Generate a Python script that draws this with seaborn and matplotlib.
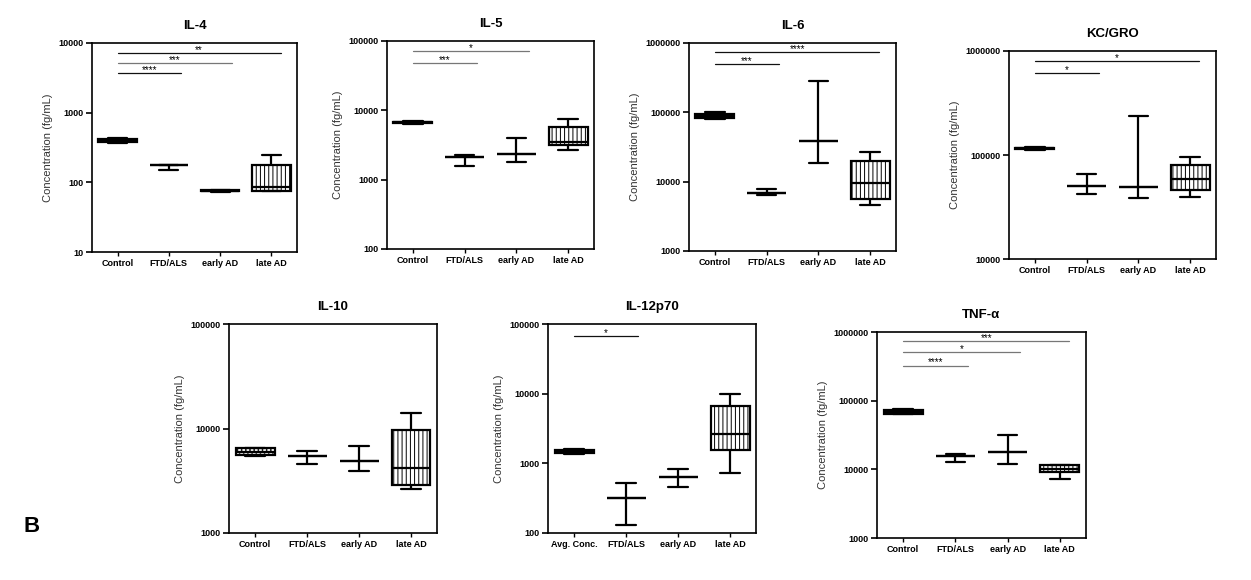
import numpy as np
import pandas as pd
import matplotlib
matplotlib.use("Agg")
import matplotlib.pyplot as plt
from matplotlib.ticker import NullLocator
import seaborn as sns

# =========================
# DATA
# five-number summaries: min, q1, median, q3, max  (fg/mL)
# =========================
groups = ["Control", "FTD/ALS", "early AD", "late AD"]
groups_il12 = ["Avg. Conc.", "FTD/ALS", "early AD", "late AD"]

il4_stats = [[365, 385, 400, 415, 440], [149, 175, 175, 175, 175],
             [73, 74, 75, 77, 78], [74, 75, 86, 175, 250]]
il5_stats = [[6300, 6500, 6700, 6900, 7100], [1600, 2150, 2150, 2150, 2250],
             [1770, 2380, 2380, 2380, 4000], [2720, 3180, 3500, 5700, 7500]]
il6_stats = [[79000, 82000, 89000, 95000, 100000], [6450, 6900, 6900, 6900, 7950],
             [18700, 39000, 39000, 39000, 285000], [4600, 5650, 9500, 19800, 27000]]
kc_stats = [[112000, 114000, 116000, 118000, 120000], [42000, 50500, 50500, 50500, 65000],
            [38500, 48800, 48800, 48800, 235000], [39700, 45600, 59000, 80500, 96000]]
il10_stats = [[5500, 5550, 6000, 6500, 6550], [4580, 5500, 5500, 5500, 6150],
              [3960, 4860, 4860, 4860, 6800], [2660, 2850, 4170, 9700, 14200]]
il12_stats = [[1350, 1400, 1480, 1550, 1600], [132, 315, 315, 315, 530],
              [454, 632, 632, 632, 834], [738, 1545, 2680, 6560, 9860]]
tnf_stats = [[63000, 65000, 68000, 72000, 75000], [13000, 15600, 15600, 15600, 16800],
             [12100, 17900, 17900, 17900, 31600], [7200, 9200, 10000, 11700, 11700]]

# significance brackets vs control: (target group, stars, height)
il4_sig = [(3, "**", 7200), (2, "***", 5150), (1, "****", 3650)]
il5_sig = [(2, "*", 71800), (1, "***", 48700)]
il6_sig = [(3, "****", 733000), (1, "***", 497000)]
kc_sig = [(3, "*", 807000), (1, "*", 620000)]
il10_sig = []
il12_sig = [(1, "*", 68000)]
tnf_sig = [(3, "***", 733000), (2, "*", 513000), (1, "****", 325000)]

# =========================
# STYLE
# =========================
sns.set_theme(style="ticks")
plt.rcParams["font.family"] = ["Liberation Sans", "DejaVu Sans"]
plt.rcParams["hatch.linewidth"] = 0.7
plt.rcParams["text.color"] = "black"
plt.rcParams["xtick.color"] = "black"
plt.rcParams["ytick.color"] = "black"

W, H = 1251, 580
fig = plt.figure(figsize=(W / 100, H / 100), dpi=100)


def draw_panel(box, title, labels, stats, sig, ylim, control_fill, sig_colors):
    left, top, right, bottom = box
    ax = fig.add_axes([left / W, 1 - bottom / H, (right - left) / W, (bottom - top) / H])

    df = pd.DataFrame({"group": np.repeat(labels, 5), "conc": np.ravel(stats)})
    sns.boxplot(data=df, x="group", y="conc", order=labels, whis=(0, 100),
                width=0.75, color="white", linecolor="black", linewidth=1.6,
                showfliers=False, log_scale=True, ax=ax)

    for i, patch in enumerate(ax.patches):
        patch.set_facecolor("white")
        patch.set_hatch("||||")
        if i == 0:
            if control_fill == "dots":
                patch.set_hatch("....")
            else:
                patch.set_facecolor("black")

    for (target, stars, y), c in zip(sig, sig_colors):
        x1 = min(target + 0.24, 3.18)
        ax.plot([0, x1], [y, y], color=c, lw=0.9)
        ax.text(x1 / 2, y, stars, ha="center", va="baseline", fontsize=7, color="black")

    ax.set_ylim(*ylim)
    ticks = [10 ** k for k in range(int(np.log10(ylim[0])), int(np.log10(ylim[1])) + 1)]
    ax.set_yticks(ticks, [str(t) for t in ticks], fontweight="bold", fontsize=6.5)
    ax.yaxis.set_minor_locator(NullLocator())
    ax.set_xticks(range(4), labels, fontweight="bold", fontsize=6.5)
    ax.set_xlim(-0.5, 3.5)
    ax.tick_params(axis="y", length=4, width=1.2, pad=2, color="black")
    ax.tick_params(axis="x", length=3, width=1.0, pad=2, color="black")
    for s in ax.spines.values():
        s.set_visible(True)
        s.set_linewidth(1.2)
        s.set_color("black")

    ax.set_xlabel("")
    ax.set_ylabel("Concentration (fg/mL)", fontsize=8, color="#333333", labelpad=4)
    ax.set_title(title, fontsize=9.5, fontweight="bold", pad=10, color="black")
    return ax


blk, gry = "#111111", "#777777"
draw_panel((92, 43, 297, 252), "IL-4", groups, il4_stats, il4_sig, (10, 10000), "black", [blk, gry, blk])
draw_panel((387, 41, 594, 249), "IL-5", groups, il5_stats, il5_sig, (100, 100000), "black", [gry, gry])
draw_panel((689, 43, 896, 251), "IL-6", groups, il6_stats, il6_sig, (1000, 1000000), "black", [blk, blk])
draw_panel((1009, 51, 1216, 259), "KC/GRO", groups, kc_stats, kc_sig, (10000, 1000000), "black", [blk, blk])
draw_panel((229, 324, 437, 533), "IL-10", groups, il10_stats, il10_sig, (1000, 100000), "dots", [])
draw_panel((548, 324, 756, 533), "IL-12p70", groups_il12, il12_stats, il12_sig, (100, 100000), "black", [blk])
draw_panel((877, 332, 1086, 538), "TNF-α", groups, tnf_stats, tnf_sig, (1000, 1000000), "black", [gry, gry, gry])

fig.text(32 / W, 1 - 526 / H, "B", fontsize=16, fontweight="bold", ha="center", va="center")

fig.savefig("out.png", dpi=100, facecolor="white")
